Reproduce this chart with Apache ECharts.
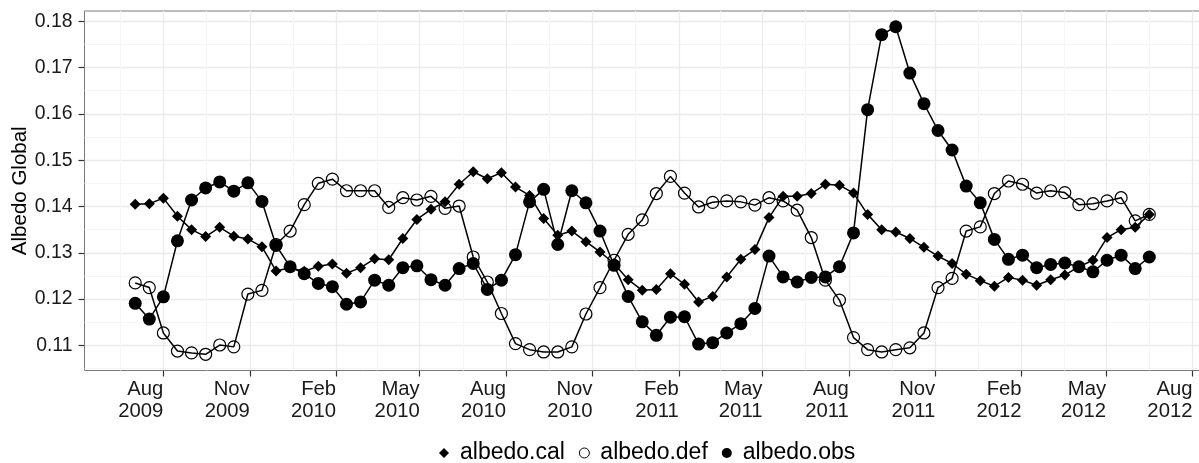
<!DOCTYPE html>
<html><head><meta charset="utf-8">
<script src="https://cdn.jsdelivr.net/npm/echarts@6/dist/echarts.min.js"></script>
<style>html,body{margin:0;padding:0;background:#fff}#c{width:1199px;height:463px}</style>
</head><body><div id="c"></div>
<script>
const dates = [
'2009-07-02','2009-07-17','2009-08-01','2009-08-16','2009-08-31','2009-09-15','2009-09-30','2009-10-15','2009-10-30','2009-11-14',
'2009-11-29','2009-12-14','2009-12-29','2010-01-13','2010-01-28','2010-02-12','2010-02-27','2010-03-14','2010-03-29','2010-04-13',
'2010-04-28','2010-05-13','2010-05-28','2010-06-12','2010-06-27','2010-07-12','2010-07-27','2010-08-11','2010-08-26','2010-09-10',
'2010-09-25','2010-10-10','2010-10-25','2010-11-09','2010-11-24','2010-12-09','2010-12-24','2011-01-08','2011-01-23','2011-02-07',
'2011-02-22','2011-03-09','2011-03-24','2011-04-08','2011-04-23','2011-05-08','2011-05-23','2011-06-07','2011-06-22','2011-07-07',
'2011-07-22','2011-08-06','2011-08-21','2011-09-05','2011-09-20','2011-10-05','2011-10-20','2011-11-04','2011-11-19','2011-12-04',
'2011-12-19','2012-01-03','2012-01-18','2012-02-02','2012-02-17','2012-03-03','2012-03-18','2012-04-02','2012-04-17','2012-05-02',
'2012-05-17','2012-06-01','2012-06-16'];

const albedoCal = [
0.1405,0.1406,0.1418,0.1379,0.1350,0.1335,0.1355,0.1336,0.1330,0.1313,
0.1261,0.1268,0.1260,0.1271,0.1276,0.1256,0.1268,0.1287,0.1285,0.1331,
0.1372,0.1394,0.1410,0.1448,0.1475,0.1460,0.1473,0.1442,0.1424,0.1374,
0.1338,0.1347,0.1324,0.1302,0.1277,0.1242,0.1219,0.1221,0.1255,0.1232,
0.1194,0.1206,0.1248,0.1286,0.1307,0.1376,0.1422,0.1422,0.1428,0.1448,
0.1446,0.1429,0.1383,0.1350,0.1345,0.1331,0.1312,0.1293,0.1277,0.1254,
0.1240,0.1228,0.1247,0.1241,0.1230,0.1242,0.1252,0.1270,0.1284,0.1333,
0.1350,0.1355,0.1383];

const albedoDef = [
0.1235,0.1225,0.1127,0.1088,0.1084,0.1081,0.1101,0.1097,0.1211,0.1219,
0.1318,0.1347,0.1404,0.1450,0.1459,0.1434,0.1434,0.1434,0.1398,0.1419,
0.1414,0.1422,0.1396,0.1401,0.1291,0.1237,0.1169,0.1104,0.1091,0.1086,
0.1086,0.1097,0.1168,0.1225,0.1284,0.1340,0.1371,0.1428,0.1465,0.1429,
0.1399,0.1409,0.1412,0.1410,0.1403,0.1419,0.1412,0.1392,0.1333,0.1241,
0.1198,0.1117,0.1091,0.1086,0.1091,0.1095,0.1127,0.1225,0.1245,0.1347,
0.1356,0.1428,0.1455,0.1448,0.1429,0.1434,0.1430,0.1404,0.1406,0.1412,
0.1419,0.1369,0.1383];

const albedoObs = [
0.1191,0.1157,0.1205,0.1326,0.1414,0.1440,0.1453,0.1433,0.1451,0.1411,
0.1316,0.1270,0.1255,0.1234,0.1227,0.1189,0.1194,0.1241,0.1230,0.1268,
0.1272,0.1242,0.1230,0.1266,0.1277,0.1221,0.1241,0.1296,0.1410,0.1437,
0.1318,0.1434,0.1408,0.1347,0.1273,0.1206,0.1151,0.1122,0.1161,0.1162,
0.1103,0.1106,0.1127,0.1147,0.1180,0.1293,0.1248,0.1237,0.1247,0.1248,
0.1270,0.1343,0.1609,0.1771,0.1788,0.1688,0.1622,0.1564,0.1522,0.1444,
0.1408,0.1329,0.1286,0.1295,0.1268,0.1275,0.1278,0.1270,0.1259,0.1284,
0.1295,0.1266,0.1291];

const xTickDates = ['2009-08-01','2009-11-01','2010-02-01','2010-05-01','2010-08-01','2010-11-01','2011-02-01',
  '2011-05-01','2011-08-01','2011-11-01','2012-02-01','2012-05-01','2012-08-01'];
const xTickLabels = ['Aug\n2009','Nov\n2009','Feb\n2010','May\n2010','Aug\n2010','Nov\n2010','Feb\n2011',
  'May\n2011','Aug\n2011','Nov\n2011','Feb\n2012','May\n2012','Aug\n2012'];
const xMinorDates = ['2009-06-16','2009-09-16','2009-12-17','2010-03-17','2010-06-16','2010-09-16','2010-12-17',
  '2011-03-17','2011-06-16','2011-09-16','2011-12-17','2012-03-17','2012-06-16'];
const yTicks = [0.11,0.12,0.13,0.14,0.15,0.16,0.17,0.18];
const yMinorTicks = [0.105,0.115,0.125,0.135,0.145,0.155,0.165,0.175];

// dates -> day numbers (UTC days since epoch) so a plain value axis can be used
function dayNum(s){ const p = s.split('-').map(Number); return Date.UTC(p[0], p[1]-1, p[2]) / 86400000; }
const xMin = dayNum('2009-05-09'), xMax = dayNum('2012-08-09');
const yMin = 0.1046, yMax = 0.1822;
const xTickNum = xTickDates.map(dayNum);
const xMinorNum = xMinorDates.map(dayNum);

const FONT = '"Liberation Sans", Arial, Helvetica, sans-serif';
const toData = arr => dates.map((d,i)=>[dayNum(d), arr[i]]);

const chart = echarts.init(document.getElementById('c'), null, {renderer:'canvas'});
const lineSeries = (arr) => ({
  type:'line', data: toData(arr), showSymbol:false, symbol:'none', silent:true,
  lineStyle:{color:'#000', width:1.5}, z:2, xAxisIndex:0, yAxisIndex:0
});
chart.setOption({
  animation:false,
  backgroundColor:'#fff',
  textStyle:{fontFamily:FONT},
  grid:{left:84.5, top:11, width:1115.5, height:359.5, show:true, borderColor:'#7a7a7a', borderWidth:1,
        backgroundColor:'transparent', containLabel:false, outerBoundsMode:'none'},
  legend:{
    left:434, top:436.5, itemWidth:10, itemHeight:10, itemGap:14,
    textStyle:{fontFamily:FONT, fontSize:23, lineHeight:23, color:'#000', padding:[0,0,0,6]},
    data:[
      {name:'albedo.cal', icon:'diamond', itemStyle:{color:'#000', borderWidth:0}},
      {name:'albedo.def', icon:'circle', itemStyle:{color:'rgba(0,0,0,0)', borderColor:'#000', borderWidth:1}},
      {name:'albedo.obs', icon:'circle', itemStyle:{color:'#000', borderWidth:0}}
    ],
    selectedMode:false
  },
  xAxis:[{
    type:'value', min:xMin, max:xMax, position:'bottom', scale:true,
    axisLine:{show:false},
    axisTick:{show:true, length:6, lineStyle:{color:'#333', width:1.2}, customValues:xTickNum},
    axisLabel:{show:true, customValues:xTickNum, align:'right', margin:8, fontSize:20.3, lineHeight:22,
      color:'#1a1a1a', fontFamily:FONT, hideOverlap:false,
      formatter:function(v){ let best=0, bd=Infinity; xTickNum.forEach((t,i)=>{const d=Math.abs(t-v); if(d<bd){bd=d;best=i;}}); return xTickLabels[best]; }},
    splitLine:{show:true, lineStyle:{color:'#EBEBEB', width:1.3}}
  },{
    type:'value', min:xMin, max:xMax, position:'top', scale:true,
    axisLine:{show:false},
    axisTick:{show:false, customValues:xMinorNum},
    axisLabel:{show:false, customValues:xMinorNum},
    splitLine:{show:true, lineStyle:{color:'#F5F5F5', width:1}}
  }],
  yAxis:[{
    type:'value', min:yMin, max:yMax, scale:true,
    name:'Albedo Global', nameLocation:'middle', nameGap:54, nameRotate:90, nameMoveOverlap:false,
    nameTextStyle:{fontFamily:FONT, fontSize:20.5, color:'#000', lineHeight:20},
    axisLine:{show:false},
    axisTick:{show:true, length:6, lineStyle:{color:'#333', width:1.2}, customValues:yTicks},
    axisLabel:{show:true, customValues:yTicks, margin:12, fontSize:19.4, color:'#1a1a1a', fontFamily:FONT,
      formatter:v=>Number(v).toFixed(2)},
    splitLine:{show:true, lineStyle:{color:'#EBEBEB', width:1.3}}
  },{
    type:'value', min:yMin, max:yMax, position:'right', scale:true,
    axisLine:{show:false},
    axisTick:{show:false, customValues:yMinorTicks},
    axisLabel:{show:false, customValues:yMinorTicks},
    splitLine:{show:true, lineStyle:{color:'#F5F5F5', width:1}}
  }],
  series:[
    lineSeries(albedoCal),
    lineSeries(albedoDef),
    lineSeries(albedoObs),
    {name:'albedo.cal', type:'scatter', data:toData(albedoCal), symbol:'diamond', symbolSize:11,
     itemStyle:{color:'#000', opacity:1}, z:3, silent:true},
    {name:'albedo.def', type:'scatter', data:toData(albedoDef), symbol:'circle', symbolSize:12,
     itemStyle:{color:'rgba(0,0,0,0)', borderColor:'#000', borderWidth:1.2, opacity:1}, z:3, silent:true},
    {name:'albedo.obs', type:'scatter', data:toData(albedoObs), symbol:'circle', symbolSize:13,
     itemStyle:{color:'#000', opacity:1}, z:3, silent:true}
  ]
});
</script>
</body></html>
